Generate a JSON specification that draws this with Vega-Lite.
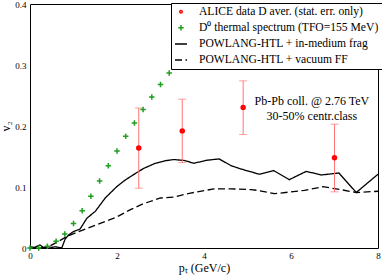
{
  "$schema": "https://vega.github.io/schema/vega-lite/v6.json",
  "width": 348,
  "height": 244,
  "autosize": {"type": "none"},
  "padding": {"left": 30, "top": 4, "right": 4, "bottom": 28},
  "background": "white",
  "datasets": {
    "solid": [
      {"pt": 0, "v2": 0.002}, {"pt": 0.1, "v2": 0.001}, {"pt": 0.23, "v2": 0.005}, {"pt": 0.3, "v2": 0.001},
      {"pt": 0.4, "v2": 0.002}, {"pt": 0.5, "v2": 0.001}, {"pt": 0.58, "v2": 0.002}, {"pt": 0.73, "v2": 0.0},
      {"pt": 0.81, "v2": 0.015}, {"pt": 0.9, "v2": 0.022}, {"pt": 1.0, "v2": 0.027}, {"pt": 1.15, "v2": 0.031},
      {"pt": 1.31, "v2": 0.049}, {"pt": 1.5, "v2": 0.06}, {"pt": 1.73, "v2": 0.082}, {"pt": 2.0, "v2": 0.101},
      {"pt": 2.2, "v2": 0.112}, {"pt": 2.42, "v2": 0.122}, {"pt": 2.6, "v2": 0.13}, {"pt": 2.85, "v2": 0.138},
      {"pt": 3.1, "v2": 0.143}, {"pt": 3.31, "v2": 0.145}, {"pt": 3.54, "v2": 0.1435}, {"pt": 3.77, "v2": 0.139},
      {"pt": 4.08, "v2": 0.144}, {"pt": 4.35, "v2": 0.146}, {"pt": 4.62, "v2": 0.135}, {"pt": 4.85, "v2": 0.1295},
      {"pt": 5.27, "v2": 0.121}, {"pt": 5.6, "v2": 0.127}, {"pt": 5.96, "v2": 0.112}, {"pt": 6.35, "v2": 0.1256},
      {"pt": 6.7, "v2": 0.1197}, {"pt": 7.1, "v2": 0.123}, {"pt": 7.5, "v2": 0.091}, {"pt": 8.0, "v2": 0.121}
    ],
    "dashed": [
      {"pt": 0, "v2": 0.0}, {"pt": 0.4, "v2": 0.001}, {"pt": 0.58, "v2": 0.008}, {"pt": 0.88, "v2": 0.02},
      {"pt": 1.27, "v2": 0.031}, {"pt": 1.73, "v2": 0.0436}, {"pt": 2.0, "v2": 0.051}, {"pt": 2.31, "v2": 0.063},
      {"pt": 2.62, "v2": 0.073}, {"pt": 3.0, "v2": 0.082}, {"pt": 3.31, "v2": 0.0836}, {"pt": 3.69, "v2": 0.09},
      {"pt": 4.23, "v2": 0.097}, {"pt": 4.62, "v2": 0.097}, {"pt": 5.08, "v2": 0.0956}, {"pt": 5.23, "v2": 0.0945},
      {"pt": 5.62, "v2": 0.089}, {"pt": 6.31, "v2": 0.0945}, {"pt": 6.73, "v2": 0.1005}, {"pt": 7.15, "v2": 0.0956},
      {"pt": 7.5, "v2": 0.091}, {"pt": 8.0, "v2": 0.093}
    ],
    "thermal": [
      {"pt": 0, "v2": 0}, {"pt": 0.2, "v2": 0}, {"pt": 0.4, "v2": 0.003}, {"pt": 0.6, "v2": 0.011},
      {"pt": 0.8, "v2": 0.023}, {"pt": 1.0, "v2": 0.04}, {"pt": 1.2, "v2": 0.061}, {"pt": 1.4, "v2": 0.085},
      {"pt": 1.6, "v2": 0.11}, {"pt": 1.8, "v2": 0.135}, {"pt": 2.0, "v2": 0.159}, {"pt": 2.2, "v2": 0.183},
      {"pt": 2.4, "v2": 0.205}, {"pt": 2.6, "v2": 0.227}, {"pt": 2.8, "v2": 0.2475}, {"pt": 3.0, "v2": 0.268},
      {"pt": 3.2, "v2": 0.287}
    ],
    "alice": [
      {"pt": 2.5, "v2": 0.164, "lo": 0.098, "hi": 0.2295},
      {"pt": 3.5, "v2": 0.192, "lo": 0.14, "hi": 0.244},
      {"pt": 4.9, "v2": 0.2305, "lo": 0.186, "hi": 0.274},
      {"pt": 7.0, "v2": 0.148, "lo": 0.092, "hi": 0.203}
    ]
  },
  "layer": [
    {
      "data": {"name": "solid"},
      "mark": {"type": "line", "strokeWidth": 1.3},
      "encoding": {
        "x": {"field": "pt", "type": "quantitative", "scale": {"domain": [0, 8], "nice": false},
          "axis": {"orient": "bottom", "values": [0, 0.5, 1, 1.5, 2, 2.5, 3, 3.5, 4, 4.5, 5, 5.5, 6, 6.5, 7, 7.5, 8], "tickSize": 0, "labelPadding": 3, "labelFlush": false, "labelOverlap": false,
            "labelExpr": "datum.value % 2 == 0 ? format(datum.value, 'd') : ''",
            "encode": {"ticks": {"update": {"y2": {"signal": "datum.value % 2 == 0 ? -6 : -3"}}}},
            "title": "pₜ (GeV/c)", "titlePadding": 2}},
        "y": {"field": "v2", "type": "quantitative", "scale": {"domain": [0, 0.4], "nice": false},
          "axis": {"orient": "left", "values": [0, 0.05, 0.1, 0.15, 0.2, 0.25, 0.3, 0.35, 0.4], "tickSize": 0, "labelPadding": 4, "labelOverlap": false,
            "labelExpr": "abs(datum.value*10 - round(datum.value*10)) > 0.01 ? '' : datum.value == 0 ? '0' : format(datum.value, '.1f')",
            "encode": {"ticks": {"update": {"x2": {"signal": "abs(datum.value*10 - round(datum.value*10)) > 0.01 ? 3 : 6"}}}},
            "title": "v₂", "titlePadding": 2}},
        "color": {"datum": "POWLANG-HTL + in-medium frag", "type": "nominal",
          "scale": {"domain": ["ALICE data D aver. (stat. err. only)", "D⁰ thermal spectrum (TFO=155 MeV)", "POWLANG-HTL + in-medium frag", "POWLANG-HTL + vacuum FF"], "range": ["#ff0000", "#1f9e1f", "#000000", "#000000"]},
          "legend": {"title": null}},
        "strokeDash": {"datum": "POWLANG-HTL + in-medium frag", "type": "nominal",
          "scale": {"type": "ordinal", "domain": ["ALICE data D aver. (stat. err. only)", "D⁰ thermal spectrum (TFO=155 MeV)", "POWLANG-HTL + in-medium frag", "POWLANG-HTL + vacuum FF"], "range": [[1, 0], [1, 0], [1, 0], [7, 3.5]]},
          "legend": {"title": null}}
      }
    },
    {
      "data": {"name": "dashed"},
      "mark": {"type": "line", "strokeWidth": 1.3},
      "encoding": {
        "x": {"field": "pt", "type": "quantitative",
          "axis": {"orient": "top", "values": [0, 0.5, 1, 1.5, 2, 2.5, 3, 3.5, 4, 4.5, 5, 5.5, 6, 6.5, 7, 7.5, 8], "tickSize": 0, "labels": false, "title": null,
            "encode": {"ticks": {"update": {"y2": {"signal": "datum.value % 2 == 0 ? 6 : 3"}}}}}},
        "y": {"field": "v2", "type": "quantitative",
          "axis": {"orient": "right", "values": [0, 0.05, 0.1, 0.15, 0.2, 0.25, 0.3, 0.35, 0.4], "tickSize": 0, "labels": false, "title": null,
            "encode": {"ticks": {"update": {"x2": {"signal": "abs(datum.value*10 - round(datum.value*10)) > 0.01 ? -3 : -6"}}}}}},
        "color": {"datum": "POWLANG-HTL + vacuum FF", "type": "nominal",
          "scale": {"domain": ["ALICE data D aver. (stat. err. only)", "D⁰ thermal spectrum (TFO=155 MeV)", "POWLANG-HTL + in-medium frag", "POWLANG-HTL + vacuum FF"], "range": ["#ff0000", "#1f9e1f", "#000000", "#000000"]},
          "legend": {"title": null}},
        "strokeDash": {"datum": "POWLANG-HTL + vacuum FF", "type": "nominal",
          "scale": {"type": "ordinal", "domain": ["ALICE data D aver. (stat. err. only)", "D⁰ thermal spectrum (TFO=155 MeV)", "POWLANG-HTL + in-medium frag", "POWLANG-HTL + vacuum FF"], "range": [[1, 0], [1, 0], [1, 0], [7, 3.5]]},
          "legend": {"title": null}}
      }
    },
    {
      "data": {"name": "alice"},
      "mark": {"type": "rule", "color": "#ff7575", "strokeWidth": 1},
      "encoding": {
        "x": {"field": "pt", "type": "quantitative", "axis": null},
        "y": {"field": "lo", "type": "quantitative", "axis": null},
        "y2": {"field": "hi"}
      }
    },
    {
      "data": {"name": "alice"},
      "mark": {"type": "tick", "orient": "horizontal", "color": "#ff7575", "size": 8, "thickness": 1},
      "encoding": {
        "x": {"field": "pt", "type": "quantitative", "axis": null},
        "y": {"field": "lo", "type": "quantitative", "axis": null}
      }
    },
    {
      "data": {"name": "alice"},
      "mark": {"type": "tick", "orient": "horizontal", "color": "#ff7575", "size": 8, "thickness": 1},
      "encoding": {
        "x": {"field": "pt", "type": "quantitative", "axis": null},
        "y": {"field": "hi", "type": "quantitative", "axis": null}
      }
    },
    {
      "data": {"name": "alice"},
      "mark": {"type": "point", "filled": false, "strokeWidth": 3, "opacity": 1},
      "encoding": {
        "x": {"field": "pt", "type": "quantitative", "axis": null},
        "y": {"field": "v2", "type": "quantitative", "axis": null},
        "color": {"datum": "ALICE data D aver. (stat. err. only)", "type": "nominal",
          "scale": {"domain": ["ALICE data D aver. (stat. err. only)", "D⁰ thermal spectrum (TFO=155 MeV)", "POWLANG-HTL + in-medium frag", "POWLANG-HTL + vacuum FF"], "range": ["#ff0000", "#1f9e1f", "#000000", "#000000"]},
          "legend": {"title": null}},
        "shape": {"datum": "ALICE data D aver. (stat. err. only)", "type": "nominal",
          "scale": {"type": "ordinal", "domain": ["ALICE data D aver. (stat. err. only)", "D⁰ thermal spectrum (TFO=155 MeV)", "POWLANG-HTL + in-medium frag", "POWLANG-HTL + vacuum FF"], "range": ["circle", "M-1,0H1M0,-1V1", "stroke", "stroke"]},
          "legend": {"title": null}},
        "size": {"datum": "ALICE data D aver. (stat. err. only)", "type": "nominal",
          "scale": {"type": "ordinal", "domain": ["ALICE data D aver. (stat. err. only)", "D⁰ thermal spectrum (TFO=155 MeV)", "POWLANG-HTL + in-medium frag", "POWLANG-HTL + vacuum FF"], "range": [6, 30, 144, 144]},
          "legend": {"title": null}}
      }
    },
    {
      "data": {"name": "thermal"},
      "mark": {"type": "point", "filled": false, "strokeWidth": 1.5, "opacity": 1},
      "encoding": {
        "x": {"field": "pt", "type": "quantitative", "axis": null},
        "y": {"field": "v2", "type": "quantitative", "axis": null},
        "color": {"datum": "D⁰ thermal spectrum (TFO=155 MeV)", "type": "nominal",
          "scale": {"domain": ["ALICE data D aver. (stat. err. only)", "D⁰ thermal spectrum (TFO=155 MeV)", "POWLANG-HTL + in-medium frag", "POWLANG-HTL + vacuum FF"], "range": ["#ff0000", "#1f9e1f", "#000000", "#000000"]},
          "legend": {"title": null}},
        "shape": {"datum": "D⁰ thermal spectrum (TFO=155 MeV)", "type": "nominal",
          "scale": {"type": "ordinal", "domain": ["ALICE data D aver. (stat. err. only)", "D⁰ thermal spectrum (TFO=155 MeV)", "POWLANG-HTL + in-medium frag", "POWLANG-HTL + vacuum FF"], "range": ["circle", "M-1,0H1M0,-1V1", "stroke", "stroke"]},
          "legend": {"title": null}},
        "size": {"datum": "D⁰ thermal spectrum (TFO=155 MeV)", "type": "nominal",
          "scale": {"type": "ordinal", "domain": ["ALICE data D aver. (stat. err. only)", "D⁰ thermal spectrum (TFO=155 MeV)", "POWLANG-HTL + in-medium frag", "POWLANG-HTL + vacuum FF"], "range": [6, 30, 144, 144]},
          "legend": {"title": null}}
      }
    },
    {
      "data": {"values": [{}]},
      "mark": {"type": "text", "text": ["Pb-Pb coll. @ 2.76 TeV", "30-50% centr.class"], "font": "Liberation Serif", "fontSize": 12, "align": "center", "baseline": "alphabetic", "lineHeight": 15.7, "color": "black"},
      "encoding": {
        "x": {"datum": 6.48, "type": "quantitative", "axis": null},
        "y": {"datum": 0.2352, "type": "quantitative", "axis": null}
      }
    }
  ],
  "resolve": {"axis": {"x": "independent", "y": "independent"}},
  "config": {
    "view": {"stroke": "black", "strokeWidth": 1},
    "axis": {"domain": false, "grid": false, "labelFont": "Liberation Serif", "labelFontSize": 9, "labelColor": "black", "tickColor": "black", "tickWidth": 1, "titleFont": "Liberation Serif", "titleFontSize": 12, "titleFontWeight": "normal", "titleColor": "black"},
    "legend": {"orient": "none", "legendX": 141, "legendY": -1, "labelFont": "Liberation Serif", "labelFontSize": 11.6, "labelColor": "black", "fillColor": "white", "strokeColor": "black", "labelLimit": 400, "padding": 3, "rowPadding": 3, "labelOffset": 11, "symbolStrokeWidth": 1.5, "symbolOpacity": 1}
  }
}
